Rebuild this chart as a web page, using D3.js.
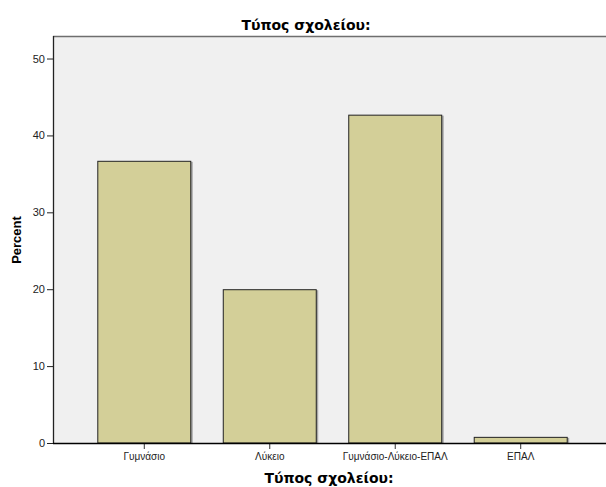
<!DOCTYPE html>
<html><head><meta charset="utf-8">
<script src="https://cdn.jsdelivr.net/npm/d3@7"></script>
<style>body{margin:0;background:#fff}svg{display:block}</style>
</head><body><svg id="c" width="606" height="487"></svg>
<script>
const categories = ["Γυμνάσιο", "Λύκειο", "Γυμνάσιο-Λύκειο-ΕΠΑΛ", "ΕΠΑΛ"];
const percents = [36.7, 20.0, 42.7, 0.8];
const yTicks = [0, 10, 20, 30, 40, 50];
const titleText = "Τύπος σχολείου:";
const yLabel = "Percent";

const svg = d3.select("#c");
const L = 53, T = 37, B = 443, R = 606;
const x = d3.scaleBand().domain(categories).range([L, 612]).paddingInner(0.251).paddingOuter(0.353);
const y = d3.scaleLinear().domain([0, 52.8]).range([B, T]);

svg.append("rect").attr("x", L).attr("y", T).attr("width", R - L).attr("height", B - T).attr("fill", "#f0f0f0");
svg.append("line").attr("x1", L).attr("x2", R).attr("y1", T - 0.5).attr("y2", T - 0.5).attr("stroke", "#6e6e6e").attr("stroke-width", 1.5);

// bars with shadow
const g = svg.append("g");
g.selectAll("rect.sh").data(percents).join("rect")
  .attr("x", (d, i) => x(categories[i]) + 1.5).attr("y", d => y(d) + 1)
  .attr("width", x.bandwidth()).attr("height", d => B - y(d) - 1)
  .attr("fill", "#a8a8a8");
g.selectAll("rect.bar").data(percents).join("rect")
  .attr("x", (d, i) => x(categories[i]) + 0.5).attr("y", d => y(d) + 0.5)
  .attr("width", x.bandwidth() - 1).attr("height", d => B - y(d) - 0.5)
  .attr("fill", "#d3cf98").attr("stroke", "#222").attr("stroke-width", 1);

// y axis
const ya = svg.append("g").attr("transform", `translate(${L},0)`)
  .call(d3.axisLeft(y).tickValues(yTicks).tickSize(6).tickSizeOuter(0).tickPadding(2));
ya.select(".domain").remove();
ya.selectAll("line").attr("stroke", "#222");
ya.selectAll("text").attr("font-family", "Liberation Sans, Arial, sans-serif").attr("font-size", 11).attr("fill", "#222");
svg.append("line").attr("x1", L + 0.5).attr("x2", L + 0.5).attr("y1", T - 1).attr("y2", B).attr("stroke", "#222").attr("stroke-width", 1.3);

// x axis
const xa = svg.append("g").attr("transform", `translate(0,${B})`)
  .call(d3.axisBottom(x).tickSize(6).tickSizeOuter(0).tickPadding(4));
xa.select(".domain").remove();
xa.selectAll("line").attr("stroke", "#333");
xa.selectAll("text").attr("font-family", "Liberation Sans, Arial, sans-serif").attr("font-size", 10).attr("fill", "#222");
svg.append("line").attr("x1", L).attr("x2", R).attr("y1", B + 0.5).attr("y2", B + 0.5).attr("stroke", "#000").attr("stroke-width", 1.5);

// titles
svg.append("text").attr("x", 306).attr("y", 30).attr("text-anchor", "middle")
  .attr("font-family", "DejaVu Sans, sans-serif").attr("font-weight", "bold").attr("font-size", 14).text(titleText);
svg.append("text").attr("x", 329).attr("y", 483).attr("text-anchor", "middle")
  .attr("font-family", "DejaVu Sans, sans-serif").attr("font-weight", "bold").attr("font-size", 14).text(titleText);
svg.append("text").attr("transform", "translate(21,240) rotate(-90)").attr("text-anchor", "middle")
  .attr("font-family", "Liberation Sans, Arial, sans-serif").attr("font-weight", "bold").attr("font-size", 13).text(yLabel);
</script></body></html>
